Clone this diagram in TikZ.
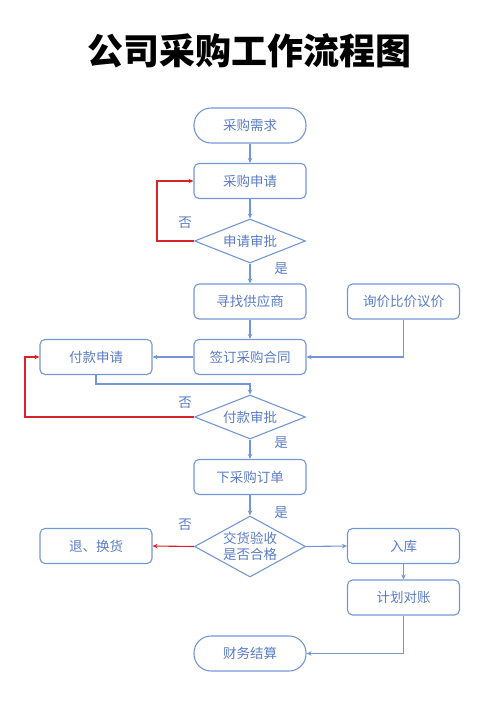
\documentclass[tikz,border=0pt]{standalone}
\usepackage{fontspec}
\newfontfamily\cjk{Noto Sans CJK SC}
\newfontfamily\cjkbold{Noto Sans CJK SC Black}
\usetikzlibrary{shapes.geometric,arrows.meta}
\definecolor{lineblue}{HTML}{7496D6}
\definecolor{textblue}{HTML}{5A7CC6}
\definecolor{noRed}{HTML}{D9232B}
\tikzset{
  base/.style={draw=lineblue, line width=1.1pt, text=textblue, font=\cjk\fontsize{13.5}{16}\selectfont, inner sep=0pt, minimum width=112pt, minimum height=35pt},
  stadium/.style={base, rectangle, rounded corners=17pt},
  stepbox/.style={base, rectangle, rounded corners=5pt},
  decision/.style={base, diamond, shape aspect=2.5, minimum width=111pt, minimum height=44pt},
  conn/.style={draw=lineblue, line width=1.1pt, -{Stealth[length=5pt,width=4.5pt]}},
  noconn/.style={draw=noRed, line width=1.1pt, -{Stealth[length=5pt,width=4.5pt]}},
  lbl/.style={text=textblue, font=\cjk\fontsize{13.5}{16}\selectfont, inner sep=0pt}
}
\begin{document}
\begin{tikzpicture}[x=1pt,y=-1pt]
\useasboundingbox (0,0) rectangle (500,707);
\node[font=\cjkbold\fontsize{36}{40}\selectfont, inner sep=0pt] (title) at (249,51) {公司采购工作流程图};
\node[stadium] (start) at (250,125.5) {采购需求};
\node[stepbox] (req) at (250,181) {采购申请};
\node[decision] (appr) at (250,241) {申请审批};
\node[stepbox] (find) at (250,301.5) {寻找供应商};
\node[stepbox] (inq) at (403.5,301.5) {询价比价议价};
\node[stepbox] (sign) at (250,357) {签订采购合同};
\node[stepbox] (pay) at (96,357) {付款申请};
\node[decision] (payappr) at (250,417) {付款审批};
\node[stepbox] (order) at (250,477) {下采购订单};
\node[decision, shape aspect=1.8, minimum height=61pt, align=center, font=\cjk\fontsize{13.5}{15.5}\selectfont] (check) at (250,546.5) {交货验收\\是否合格};
\node[stepbox] (ret) at (96,546) {退、换货};
\node[stepbox] (store) at (403.5,546) {入库};
\node[stepbox] (recon) at (403.5,597.5) {计划对账};
\node[stadium] (fin) at (250,653.5) {财务结算};

\coordinate (c1) at (157,241);
\coordinate (c2) at (25,417);
\coordinate (c3) at (96,384);

\draw[conn] (start) -- (req);
\draw[conn] (req) -- (appr);
\draw[noconn] (appr.west) -- (c1) |- (req.west);
\draw[conn] (appr) -- (find);
\draw[conn] (find) -- (sign);
\draw[conn] (inq.south) |- (sign.east);
\draw[conn] (sign.west) -- (pay.east);
\draw[conn] (pay.south) -- (c3) -| (payappr.north);
\draw[noconn] (payappr.west) -- (c2) |- (pay.west);
\draw[conn] (payappr) -- (order);
\draw[conn] (order) -- (check);
\draw[noconn] (check.west) -- (ret.east);
\draw[conn] (check.east) -- (store.west);
\draw[conn] (store) -- (recon);
\draw[conn] (recon.south) |- (fin.east);

\node[lbl] (n1) at (185,223) {否};
\node[lbl] (y1) at (281,269) {是};
\node[lbl] (n2) at (185,403) {否};
\node[lbl] (y2) at (281,443) {是};
\node[lbl] (y3) at (281,513) {是};
\node[lbl] (n3) at (185,525) {否};
\end{tikzpicture}
\end{document}
